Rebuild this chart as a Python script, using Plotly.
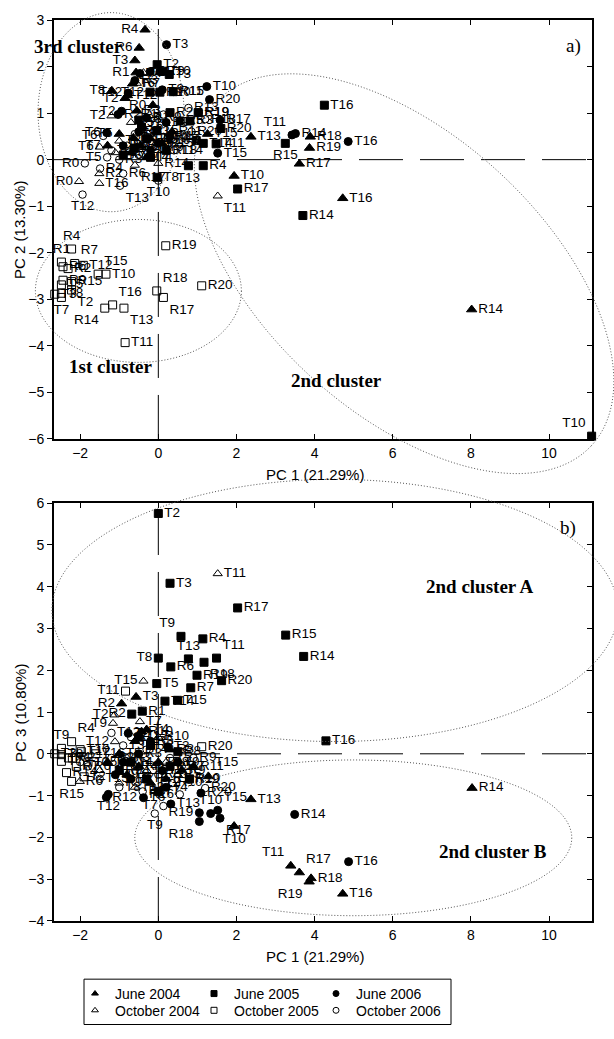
import math
import plotly.graph_objects as go

# ---------------- DATA ----------------
# Panel a) : PC1 vs PC2
a_jun04_lab = ["R4","R6","T3","R1","T6","T8","T2","R0","T12","R3","T5","R7","T9","R15","R2","T4","R11","T7","R5","T15","T13","R18","R19","R17","T10","T16","R14"]
a_jun04_x = [-0.34,-0.49,-0.60,-0.57,-0.66,-1.19,-0.85,-0.14,-0.79,-0.55,-1.00,-0.45,-0.20,0.10,-0.70,-0.30,0.35,-1.30,-0.64,1.26,2.37,3.89,3.87,3.61,1.94,4.72,8.02]
a_jun04_y = [2.79,2.40,2.13,1.87,1.63,1.48,1.32,1.17,1.38,1.05,0.55,0.30,0.45,0.35,0.15,0.05,0.60,0.30,0.47,0.55,0.49,0.49,0.25,-0.09,-0.35,-0.83,-3.22]

a_jun05_lab = ["T2","T3","T9","R11","R10","T12","R8","R2","R5","R3","R19","R20","T11","R16","T14","T5","T6","R6","T15","R18","R7","T4","T13","R4","R17","R14","T8","T16","R15","T10"]
a_jun05_x = [-0.03,0.28,0.12,0.38,0.04,-0.21,-0.50,0.30,0.56,0.81,1.02,1.60,1.48,0.97,1.15,-0.04,-0.43,-0.60,-0.30,0.20,-0.90,-0.20,0.77,1.15,2.03,3.70,-0.03,4.25,3.25,11.09]
a_jun05_y = [2.04,1.83,1.90,1.46,1.45,1.45,0.85,1.01,0.83,0.83,1.01,0.67,0.34,0.41,0.35,0.62,0.70,0.25,0.45,0.20,0.10,0.05,-0.13,-0.13,-0.63,-1.20,-0.38,1.17,0.35,-5.94]

a_jun06_lab = ["T3","T10","R20","R19","R17","T15","T16","T11","R14","T1","R10","T4","T2","R2","T12","T6","R15","R3","T9","R1","R5","T7","R6","R9","T13","R12"]
a_jun06_x = [0.21,1.24,1.31,1.03,1.58,1.52,4.86,3.42,3.51,-0.21,0.04,-0.47,-0.94,-1.03,-0.77,-1.32,0.38,-0.60,0.10,-0.30,-0.50,0.00,-0.90,0.20,-0.20,0.30]
a_jun06_y = [2.47,1.57,1.29,1.01,0.85,0.14,0.39,0.53,0.56,1.89,1.89,1.85,1.04,0.97,1.43,0.58,1.46,1.70,1.50,0.90,0.60,0.35,0.30,0.80,0.20,0.50]

a_oct04_lab = ["R0","T16","R2","T11","T6","T2","T1","R7","R14","R17","T8","R3","T9","R5","T3","R9"]
a_oct04_x = [-2.03,-1.51,-1.51,1.52,-1.50,-1.20,-0.38,-0.55,0.00,-0.60,-1.00,-0.30,0.20,-0.70,-1.10,0.00]
a_oct04_y = [-0.47,-0.51,-0.30,-0.78,0.27,0.94,1.87,1.64,-0.08,-0.12,0.40,0.60,0.45,0.80,0.15,0.90]

a_oct05_lab = ["R4","R1","R7","R6","R2","T12","T15","T10","R9","R15","T5","T3","T8","T7","T2","T16","R14","T13","R18","R17","R20","R19","T11"]
a_oct05_x = [-2.22,-2.48,-2.14,-2.44,-2.31,-1.92,-1.54,-1.34,-2.44,-2.22,-2.48,-2.65,-2.48,-2.48,-2.22,-1.17,-1.37,-0.88,-0.04,0.13,1.11,0.19,-0.85]
a_oct05_y = [-1.92,-2.20,-2.23,-2.30,-2.34,-2.27,-2.46,-2.46,-2.59,-2.62,-2.69,-2.89,-2.87,-2.96,-2.80,-3.12,-3.19,-3.19,-2.82,-2.96,-2.71,-1.85,-3.93]

a_oct06_lab = ["T12","T13","R4","T5","R0","R1","R13","R18","R20","T6","R7","T7","R9","T9","R3","T3","R15","T10","T4","R6","T14"]
a_oct06_x = [-1.94,-0.98,-1.49,-1.31,-1.88,0.13,0.77,1.20,0.85,-1.41,-0.80,-0.50,-0.20,0.10,-1.00,-0.60,0.25,0.00,-1.20,-0.90,0.40]
a_oct06_y = [-0.75,-0.56,-0.19,0.05,-0.08,0.97,1.11,0.87,0.60,0.51,0.30,0.10,0.35,0.25,0.00,0.55,0.50,-0.45,0.20,-0.30,0.20]

# Panel b) : PC1 vs PC3
b_jun04_lab = ["R14","T13","T10","T15","T11","R17","R18","R19","T16","T3","R2","R10","T4","T5","R7","T6","R3","T8","R9","T12","R1","T9","R4","R11"]
b_jun04_x = [8.03,2.37,1.94,1.28,3.39,3.61,3.91,3.86,4.72,-0.57,-0.94,-0.43,-0.30,-1.00,-0.50,0.00,0.30,-0.80,0.60,-0.20,0.20,-1.30,-0.60,0.90]
b_jun04_y = [-0.82,-1.09,-1.73,-0.54,-2.68,-2.84,-2.98,-3.06,-3.35,1.36,1.20,0.53,0.58,0.00,-0.30,-0.20,0.10,-0.50,-0.40,-0.70,-0.60,-0.20,0.30,-0.30]

b_jun05_lab = ["T2","T3","R17","T9","R4","R15","R14","T10","T16","T8","T13","T11","R18","R6","R19","R20","T5","R7","T15","T14","R1","R2","R3","R5","T4","T6","R8","T7","R9","R10","T12"]
b_jun05_x = [0.00,0.30,2.03,0.58,1.14,3.26,3.72,11.11,4.29,0.00,0.77,1.49,1.17,0.32,0.99,1.62,-0.04,0.83,0.49,0.17,-0.41,-0.68,-0.20,0.30,-0.70,-0.30,0.50,0.00,-1.00,0.80,-0.50]
b_jun05_y = [5.75,4.08,3.49,2.81,2.75,2.84,2.33,3.14,0.31,2.29,2.27,2.29,2.19,2.08,1.88,1.75,1.68,1.58,1.28,1.26,1.02,0.95,0.20,-0.30,-0.20,-0.60,0.05,-0.90,-0.40,-0.60,0.40]

b_jun06_lab = ["R14","T16","R20","T13","R19","R18","T10","T15","R17","T12","R12","T6","T3","T2","R1","R3","T1","R5","T9","R7","T4","R9"]
b_jun06_x = [3.49,4.87,1.09,0.32,1.05,1.05,1.34,1.52,1.58,-1.28,-1.33,-0.38,0.24,-0.77,-0.90,-0.50,0.10,-0.20,0.50,-0.70,0.20,-1.10]
b_jun06_y = [-1.45,-2.58,-0.94,-1.20,-1.41,-1.62,-1.43,-1.35,-1.54,-0.97,-1.04,-1.05,0.17,0.49,-0.20,0.00,-0.40,0.30,-0.20,-0.60,-0.80,-0.50]

b_oct04_lab = ["T11","T15","T2","T9","R6","T12","T7","R3","T5","R8","T3","R10","T13","R5","R9"]
b_oct04_x = [1.52,-0.38,-1.12,-1.16,-2.01,-1.11,-0.47,-0.80,-0.30,0.20,-1.50,0.00,-0.60,0.50,-1.00]
b_oct04_y = [4.31,1.74,0.93,0.73,-0.66,0.29,0.77,-0.10,-0.40,-0.20,-0.40,0.40,-0.80,-0.50,-0.70]

b_oct05_lab = ["R20","T11","T9","R4","R15","T8","T3","T7","T12","R1","R7","T15","R14","T2","T10","T16","R2"]
b_oct05_x = [1.11,-0.84,-2.48,-2.22,-2.22,-2.48,-2.65,-2.48,-1.97,-2.30,-2.10,-1.80,-2.35,-1.90,-2.00,-1.60,-2.20]
b_oct05_y = [0.17,1.50,0.13,0.29,-0.66,-0.02,0.00,-0.18,0.05,-0.10,-0.30,-0.20,-0.45,-0.55,0.10,0.00,-0.10]

b_oct06_lab = ["T9","T7","R16","R20","R19","R6","T13","R2","T3","R4","T4","R5","T5","R7","T8","R8","R9","T10","T12","R10","R11"]
b_oct06_x = [-0.09,0.13,0.55,1.20,0.79,-1.80,-1.50,-1.20,-0.90,-0.60,-0.30,0.00,0.30,0.60,-1.00,-0.40,0.90,-2.00,-1.20,0.35,-0.70]
b_oct06_y = [-1.43,-1.25,-0.97,-0.82,-0.62,-0.30,-0.60,-0.10,0.20,-0.30,0.10,-0.50,-0.10,-0.30,-0.80,-0.90,-0.10,-0.20,0.50,-0.70,0.40]

series_names = ["June 2004", "June 2005", "June 2006", "October 2004", "October 2005", "October 2006"]
x_title = "PC 1 (21.29%)"
ya_title = "PC 2 (13.30%)"
yb_title = "PC 3 (10.80%)"

# ---------------- STYLE / LAYOUT ----------------
FONT = "Liberation Sans, Arial, sans-serif"
SERIF = "Liberation Serif, Times New Roman, serif"
W, H = 614, 1039
ML, MR, MT, MB = 54, 22, 17, 108
PW, PH = W - ML - MR, H - MT - MB
XR = [-2.67, 11.1]
YA = [-6, 3]
YB = [-4, 6]
DOM_A = [0.535, 1.0]
DOM_B = [0.0, 0.4639]

sym = {"June 2004": ("triangle-up", 9), "June 2005": ("square", 8), "June 2006": ("circle", 8),
       "October 2004": ("triangle-up-open", 8), "October 2005": ("square-open", 8),
       "October 2006": ("circle-open", 7.5)}

pos_a = {
    "June 2004": {"R4": "middle left", "R6": "middle left", "T3": "middle left", "R1": "middle left",
                  "T8": "middle left", "T2": "middle left", "R0": "middle left", "T5": "middle left",
                  "T7": "middle left"},
    "June 2005": {"T13": "bottom center", "R15": "bottom center", "T10": "top left", "R16": "middle left",
                  "T12": "middle left"},
    "June 2006": {"T11": "top left", "T2": "middle left", "T6": "middle left", "T12": "middle left"},
    "October 2004": {"R0": "middle left", "T6": "middle left", "T2": "middle left",
                     "R17": "bottom right", "T11": "bottom right"},
    "October 2005": {"R4": "top center", "R1": "top center", "R7": "top right", "T15": "top right",
                     "T7": "bottom center", "T16": "top right", "R14": "bottom left", "T13": "bottom right",
                     "R18": "top right", "R17": "bottom right", "T2": "bottom right"},
    "October 2006": {"T12": "bottom center", "T13": "bottom right", "T5": "middle left", "R0": "middle left",
                     "R1": "middle left", "T6": "middle left", "T10": "bottom center"},
}
pos_b = {
    "June 2004": {"T10": "bottom center", "T15": "top right", "T11": "top left", "R17": "top right",
                  "R19": "bottom left", "R2": "middle left"},
    "June 2005": {"T9": "top left", "T10": "bottom center", "T8": "middle left", "T13": "top center",
                  "T11": "top right", "R18": "bottom right", "R2": "middle left"},
    "June 2006": {"R19": "middle left", "R18": "bottom left", "T10": "top center", "T15": "top right",
                  "R17": "bottom right", "T12": "bottom center"},
    "October 2004": {"T15": "middle left", "T2": "middle left", "T9": "middle left", "T12": "middle left"},
    "October 2005": {"T11": "middle left", "T9": "top center", "R4": "top right", "R15": "bottom center"},
    "October 2006": {"T9": "bottom center", "T7": "middle left", "R16": "middle left"},
}

panel_a = [(a_jun04_x, a_jun04_y, a_jun04_lab), (a_jun05_x, a_jun05_y, a_jun05_lab),
           (a_jun06_x, a_jun06_y, a_jun06_lab), (a_oct04_x, a_oct04_y, a_oct04_lab),
           (a_oct05_x, a_oct05_y, a_oct05_lab), (a_oct06_x, a_oct06_y, a_oct06_lab)]
panel_b = [(b_jun04_x, b_jun04_y, b_jun04_lab), (b_jun05_x, b_jun05_y, b_jun05_lab),
           (b_jun06_x, b_jun06_y, b_jun06_lab), (b_oct04_x, b_oct04_y, b_oct04_lab),
           (b_oct05_x, b_oct05_y, b_oct05_lab), (b_oct06_x, b_oct06_y, b_oct06_lab)]

fig = go.Figure()


def add_panel(data, posmap, xa, ya):
    for name, (xs, ys, labs) in zip(series_names, data):
        s, size = sym[name]
        tp = [posmap[name].get(l, "middle right") for l in labs]
        fig.add_trace(go.Scatter(
            x=xs, y=ys, text=labs, mode="markers+text", textposition=tp,
            marker=dict(symbol=s, size=size, color="black", line=dict(color="black", width=1)),
            textfont=dict(family=FONT, size=13.5, color="black"),
            cliponaxis=False, showlegend=False, xaxis=xa, yaxis=ya, name=name,
            hoverinfo="text"))


add_panel(panel_a, pos_a, "x", "y")
add_panel(panel_b, pos_b, "x2", "y2")

# invisible anchors for the inward ticks on the right-hand frame
fig.add_trace(go.Scatter(x=[None], y=[None], xaxis="x", yaxis="y3", showlegend=False, hoverinfo="skip"))
fig.add_trace(go.Scatter(x=[None], y=[None], xaxis="x2", yaxis="y4", showlegend=False, hoverinfo="skip"))

# legend entries (one small legend per entry, arranged in a 3 x 2 grid)
leg_cols_px = [75, 194, 316]
leg_rows_py = [1005, 1022]
for i, name in enumerate(series_names):
    s, _ = sym[name]
    lname = "legend" if i == 0 else "legend%d" % (i + 1)
    fig.add_trace(go.Scatter(x=[None], y=[None], mode="markers", name=name,
                             marker=dict(symbol=s, size=6, color="black", line=dict(color="black", width=1)),
                             legend=lname, showlegend=True, xaxis="x2", yaxis="y2"))
    col, row = i % 3, i // 3
    lx = (leg_cols_px[col] - ML) / PW
    ly = 1 - (leg_rows_py[row] - MT) / PH
    fig.update_layout(**{lname: dict(x=lx, y=ly, xanchor="left", yanchor="middle",
                                     bgcolor="rgba(0,0,0,0)", borderwidth=0,
                                     font=dict(family=FONT, size=14, color="black"),
                                     itemclick=False, itemdoubleclick=False)})


def px_of(xd, yd, yr, dom):
    px = ML + (xd - XR[0]) / (XR[1] - XR[0]) * PW
    fy = dom[0] + (yd - yr[0]) / (yr[1] - yr[0]) * (dom[1] - dom[0])
    py = MT + (1 - fy) * PH
    return px, py


def ellipse_path(cx, cy, a, b, ang, yr, dom, n=160):
    px0, py0 = px_of(cx, cy, yr, dom)
    th = math.radians(ang)
    pts = []
    for k in range(n + 1):
        t = 2 * math.pi * k / n
        ex, ey = a * math.cos(t), b * math.sin(t)
        px = px0 + ex * math.cos(th) - ey * math.sin(th)
        py = py0 + ex * math.sin(th) + ey * math.cos(th)
        pts.append(((px - ML) / PW, 1 - (py - MT) / PH))
    return "M" + " L".join("%.5f,%.5f" % p for p in pts) + " Z"


ell_style = dict(color="#555555", width=1, dash="1px,2px")
ellipses = [
    (-1.21, 1.02, 73, 101, 0, YA, DOM_A),     # 3rd cluster
    (-0.51, -2.82, 103, 72.5, 0, YA, DOM_A),  # 1st cluster
    (6.29, -2.45, 256, 140, 43.2, YA, DOM_A), # 2nd cluster
    (4.52, 3.43, 283, 133, 0, YB, DOM_B),     # 2nd cluster A
    (4.99, -2.01, 218.5, 79, 0, YB, DOM_B),   # 2nd cluster B
]
shapes = []
for e in ellipses:
    shapes.append(dict(type="path", xref="paper", yref="paper", path=ellipse_path(*e),
                       line=ell_style, layer="above"))

dash = "44px,17px"
for xa, ya, yr in (("x", "y", YA), ("x2", "y2", YB)):
    shapes.append(dict(type="line", xref=xa, yref=ya, x0=XR[0], x1=XR[1], y0=0, y1=0,
                       line=dict(color="black", width=1, dash=dash), layer="below"))
    shapes.append(dict(type="line", xref=xa, yref=ya, x0=0, x1=0, y0=yr[0], y1=yr[1],
                       line=dict(color="black", width=1, dash=dash), layer="below"))

# legend frame
shapes.append(dict(type="rect", xref="paper", yref="paper",
                   x0=(84 - ML) / PW, x1=(451 - ML) / PW,
                   y0=1 - (1036 - MT) / PH, y1=1 - (990 - MT) / PH,
                   line=dict(color="black", width=1)))


def ann(text, px, py, size, family, bold=False, angle=0):
    return dict(text=("<b>%s</b>" % text) if bold else text, xref="paper", yref="paper",
                x=(px - ML) / PW, y=1 - (py - MT) / PH, xanchor="center", yanchor="middle",
                showarrow=False, textangle=angle, font=dict(family=family, size=size, color="black"))


annotations = [
    ann("3rd cluster", 78, 44, 19, SERIF, True),
    ann("1st cluster", 110, 368, 19, SERIF, True),
    ann("2nd cluster", 336, 383, 19, SERIF, True),
    ann("2nd cluster A", 480, 592, 19, SERIF, True),
    ann("2nd cluster B", 493, 860, 19, SERIF, True),
    ann("a)", 573, 43, 19, SERIF),
    ann("b)", 568, 532, 19, SERIF),
    ann(x_title, 315, 478, 15, FONT),
    ann(x_title, 315, 967, 15, FONT),
    ann(ya_title, 20, 230, 15, FONT, angle=-90),
    ann(yb_title, 20, 720, 15, FONT, angle=-90),
]

xax = dict(range=XR, dtick=2, tick0=0, ticks="inside", ticklen=5, tickwidth=1, mirror="ticks",
           showline=True, linecolor="black", linewidth=1.8, showgrid=False, zeroline=False,
           tickfont=dict(family=FONT, size=14, color="black"), tickcolor="black")
yax = dict(dtick=1, tick0=0, ticks="outside", ticklen=5, tickwidth=1, mirror=True,
           showline=True, linecolor="black", linewidth=1.8, showgrid=False, zeroline=False,
           tickfont=dict(family=FONT, size=14, color="black"), tickcolor="black")
yright = dict(dtick=1, tick0=0, ticks="inside", ticklen=5, tickwidth=1, side="right",
              showline=False, showgrid=False, zeroline=False, showticklabels=False, tickcolor="black")

fig.update_layout(
    width=W, height=H, margin=dict(l=ML, r=MR, t=MT, b=MB),
    paper_bgcolor="white", plot_bgcolor="white",
    xaxis=dict(xax, domain=[0, 1], anchor="y"),
    yaxis=dict(yax, range=YA, domain=DOM_A, anchor="x"),
    xaxis2=dict(xax, domain=[0, 1], anchor="y2"),
    yaxis2=dict(yax, range=YB, domain=DOM_B, anchor="x2"),
    yaxis3=dict(yright, range=YA, overlaying="y", anchor="x"),
    yaxis4=dict(yright, range=YB, overlaying="y2", anchor="x2"),
    shapes=shapes, annotations=annotations, showlegend=True,
    font=dict(family=FONT, color="black"),
)

fig.write_html("out.html")
